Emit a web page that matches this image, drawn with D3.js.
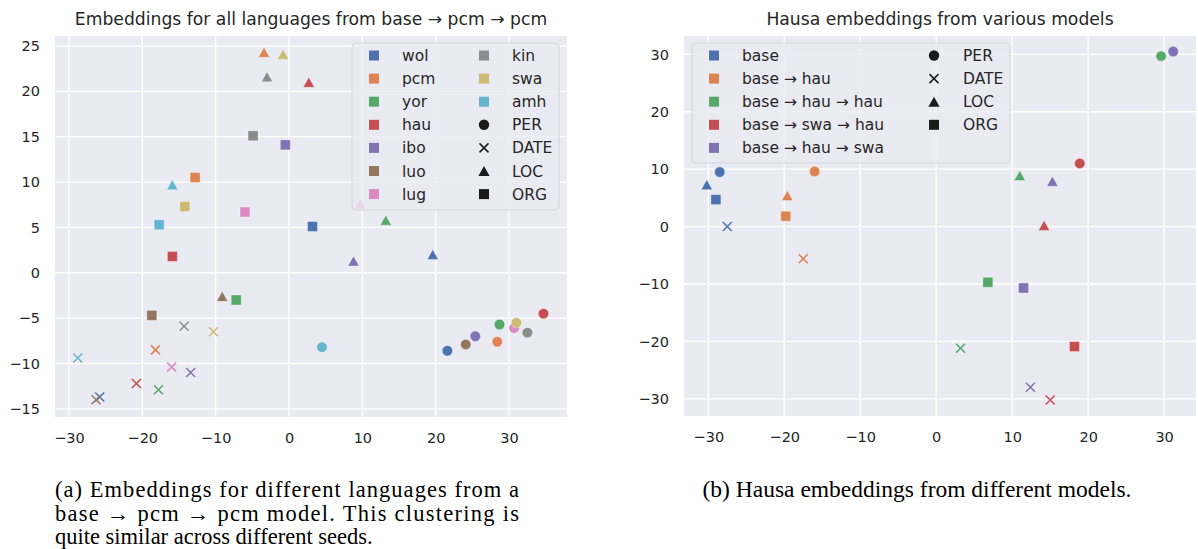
<!DOCTYPE html>
<html>
<head>
<meta charset="utf-8">
<script src="https://cdn.jsdelivr.net/npm/d3@7"></script>
<style>
  html, body { margin: 0; padding: 0; background: #ffffff; }
  svg { display: block; }
</style>
</head>
<body>
<svg id="chart" width="1198" height="549"></svg>
<script>
// ---------------- DATA ----------------
const entityTypes = ["PER", "DATE", "LOC", "ORG"];

// Panel (a): languages
const languages = ["wol", "pcm", "yor", "hau", "ibo", "luo", "lug", "kin", "swa", "amh"];
const languageColors = ["#4C72B0", "#DD8452", "#55A868", "#C44E52", "#8172B3", "#937860", "#DA8BC3", "#8C8C8C", "#CCB974", "#64B5CD"];
const langPER  = [[21.6, -8.6], [28.4, -7.6], [28.7, -5.7], [34.7, -4.5], [25.4, -7.0], [24.1, -7.9], [30.7, -6.1], [32.5, -6.6], [31.0, -5.5], [4.5, -8.2]];
const langDATE = [[-25.8, -13.7], [-18.2, -8.5], [-17.8, -12.9], [-20.8, -12.2], [-13.4, -11.0], [-26.3, -14.0], [-16.0, -10.4], [-14.3, -5.9], [-10.3, -6.5], [-28.8, -9.4]];
const langLOC  = [[19.6, 2.0], [-3.4, 24.3], [13.2, 5.8], [2.7, 21.0], [8.8, 1.3], [-9.1, -2.6], [9.7, 7.6], [-3.0, 21.6], [-0.8, 24.1], [-15.9, 9.7]];
const langORG  = [[3.2, 5.1], [-12.8, 10.5], [-7.2, -3.0], [-15.9, 1.8], [-0.5, 14.1], [-18.7, -4.7], [-6.0, 6.7], [-4.9, 15.1], [-14.2, 7.3], [-17.7, 5.3]];
const langXTicks = [-30, -20, -10, 0, 10, 20, 30];
const langYTicks = [-15, -10, -5, 0, 5, 10, 15, 20, 25];
const langTitle = "Embeddings for all languages from base \u2192 pcm \u2192 pcm";

// Panel (b): Hausa models
const models = ["base", "base \u2192 hau", "base \u2192 hau \u2192 hau", "base \u2192 swa \u2192 hau", "base \u2192 hau \u2192 swa"];
const modelColors = ["#4C72B0", "#DD8452", "#55A868", "#C44E52", "#8172B3"];
const hauPER  = [[-28.5, 9.5], [-16.0, 9.6], [29.6, 29.7], [18.9, 11.0], [31.2, 30.5]];
const hauDATE = [[-27.5, 0.0], [-17.5, -5.6], [3.2, -21.2], [15.0, -30.2], [12.4, -28.0]];
const hauLOC  = [[-30.2, 7.3], [-19.6, 5.4], [11.0, 8.9], [14.2, 0.2], [15.3, 7.9]];
const hauORG  = [[-29.0, 4.7], [-19.8, 1.8], [6.8, -9.7], [18.2, -20.9], [11.5, -10.7]];
const hauXTicks = [-30, -20, -10, 0, 10, 20, 30];
const hauYTicks = [-30, -20, -10, 0, 10, 20, 30];
const hauTitle = "Hausa embeddings from various models";

const captionA = [
  "(a) Embeddings for different languages from a",
  "base \u2192 pcm \u2192 pcm model.  This clustering is",
  "quite similar across different seeds."
];
const captionB = "(b) Hausa embeddings from different models.";

// ---------------- DRAWING ----------------
const svg = d3.select("#chart");
const fmt = d3.format("d");

function markerPath(type, s) {
  const h = s / 2;
  if (type === "PER") {
    const r = s * 0.52;
    return `M${r},0A${r},${r} 0 1,1 ${-r},0A${r},${r} 0 1,1 ${r},0Z`;
  }
  if (type === "ORG") return `M${-h},${-h}H${h}V${h}H${-h}Z`;
  if (type === "LOC") { const w = s * 0.56, t = s * 0.5; return `M0,${-t}L${w},${t}L${-w},${t}Z`; }
  if (type === "DATE") { const d = s * 0.45; return `M${-d},${-d}L${d},${d}M${-d},${d}L${d},${-d}`; }
}

function drawMarker(g, type, color, x, y, s) {
  const p = g.append("path")
    .attr("d", markerPath(type, s))
    .attr("transform", `translate(${x},${y})`);
  if (type === "DATE") {
    p.attr("fill", "none").attr("stroke", color).attr("stroke-width", 1.5);
  } else {
    p.attr("fill", color).attr("stroke", "#ffffff").attr("stroke-opacity", 0.45).attr("stroke-width", 0.8);
  }
  return p;
}

function panel(cfg) {
  const x = d3.scaleLinear().domain(cfg.xDomain).range([cfg.left, cfg.right]);
  const y = d3.scaleLinear().domain(cfg.yDomain).range([cfg.bottom, cfg.top]);
  const g = svg.append("g");

  // background
  g.append("rect").attr("x", cfg.left).attr("y", cfg.top)
    .attr("width", cfg.right - cfg.left).attr("height", cfg.bottom - cfg.top)
    .attr("fill", "#EAEAF2");

  // grid
  g.append("g").selectAll("line").data(cfg.xTicks).join("line")
    .attr("x1", d => x(d)).attr("x2", d => x(d))
    .attr("y1", cfg.top).attr("y2", cfg.bottom)
    .attr("stroke", "#ffffff").attr("stroke-width", 1.3);
  g.append("g").selectAll("line").data(cfg.yTicks).join("line")
    .attr("y1", d => y(d)).attr("y2", d => y(d))
    .attr("x1", cfg.left).attr("x2", cfg.right)
    .attr("stroke", "#ffffff").attr("stroke-width", 1.3);

  // axes (labels only)
  const xa = g.append("g").attr("transform", `translate(0,${cfg.bottom + 6})`)
    .call(d3.axisBottom(x).tickValues(cfg.xTicks).tickFormat(fmt).tickSize(0).tickPadding(10));
  xa.select(".domain").remove();
  xa.selectAll("text").attr("font-family", "DejaVu Sans").attr("font-size", 14.5).attr("fill", "#262626");
  const ya = g.append("g").attr("transform", `translate(${cfg.left - 6},0)`)
    .call(d3.axisLeft(y).tickValues(cfg.yTicks).tickFormat(fmt).tickSize(0).tickPadding(9));
  ya.select(".domain").remove();
  ya.selectAll("text").attr("font-family", "DejaVu Sans").attr("font-size", 14.5).attr("fill", "#262626");

  // title
  g.append("text").attr("x", (cfg.left + cfg.right) / 2).attr("y", 25)
    .attr("text-anchor", "middle").attr("font-family", "DejaVu Sans")
    .attr("font-size", 17.2).attr("fill", "#262626").text(cfg.title);

  // points
  const pts = g.append("g");
  cfg.series.forEach(s => {
    s.data.forEach((d, i) => {
      drawMarker(pts, s.type, cfg.colors[i], x(d[0]), y(d[1]), 10);
    });
  });

  // legend
  const L = cfg.legend;
  const lg = g.append("g");
  lg.append("rect").attr("x", L.x).attr("y", L.y).attr("width", L.w).attr("height", L.h)
    .attr("rx", 4).attr("ry", 4)
    .attr("fill", "#EAEAF2").attr("fill-opacity", 0.8)
    .attr("stroke", "#d4d4dc").attr("stroke-width", 1);
  L.items.forEach((it, k) => {
    const col = k < L.rows ? 0 : 1;
    const row = k < L.rows ? k : k - L.rows;
    const cy = L.y0 + row * L.step;
    const mx = L.mx[col], tx = L.tx[col];
    drawMarker(lg, it.type, it.color, mx, cy, 10).attr("stroke-opacity", it.type === "DATE" ? 1 : 0);
    lg.append("text").attr("x", tx).attr("y", cy).attr("dy", "0.36em")
      .attr("font-family", "DejaVu Sans").attr("font-size", 15.5).attr("fill", "#262626")
      .text(it.label);
  });
}

const legendBlack = "#1a1a1a";

panel({
  left: 55, right: 567, top: 36, bottom: 417,
  xDomain: [-31.9, 37.9], yDomain: [-15.9, 26.1],
  xTicks: langXTicks, yTicks: langYTicks, title: langTitle,
  colors: languageColors,
  series: [
    { type: "ORG", data: langORG },
    { type: "LOC", data: langLOC },
    { type: "DATE", data: langDATE },
    { type: "PER", data: langPER }
  ],
  legend: {
    x: 352, y: 43, w: 207, h: 167, rows: 7, y0: 55.5, step: 23.1,
    mx: [374, 484], tx: [402, 512],
    items: languages.map((l, i) => ({ label: l, color: languageColors[i], type: "ORG" }))
      .concat(entityTypes.map(t => ({ label: t, color: legendBlack, type: t })))
  }
});

panel({
  left: 684, right: 1196, top: 36, bottom: 416,
  xDomain: [-33.2, 34.2], yDomain: [-33.0, 33.2],
  xTicks: hauXTicks, yTicks: hauYTicks, title: hauTitle,
  colors: modelColors,
  series: [
    { type: "PER", data: hauPER },
    { type: "DATE", data: hauDATE },
    { type: "LOC", data: hauLOC },
    { type: "ORG", data: hauORG }
  ],
  legend: {
    x: 692, y: 43, w: 318, h: 120, rows: 5, y0: 55.5, step: 23.1,
    mx: [714, 934], tx: [742, 963],
    items: models.map((m, i) => ({ label: m, color: modelColors[i], type: "ORG" }))
      .concat(entityTypes.map(t => ({ label: t, color: legendBlack, type: t })))
  }
});

// captions
const capA = svg.append("g");
captionA.forEach((line, i) => {
  const t = capA.append("text").attr("x", 55).attr("y", 497 + i * 23.5)
    .attr("font-family", "Liberation Serif").attr("font-size", 22.5).attr("fill", "#000")
    .text(line);
  if (i < 2) t.attr("textLength", 464).attr("lengthAdjust", "spacing");
});
svg.append("text").attr("x", 917).attr("y", 497).attr("text-anchor", "middle")
  .attr("font-family", "Liberation Serif").attr("font-size", 23.5).attr("fill", "#000")
  .text(captionB);
</script>
</body>
</html>
